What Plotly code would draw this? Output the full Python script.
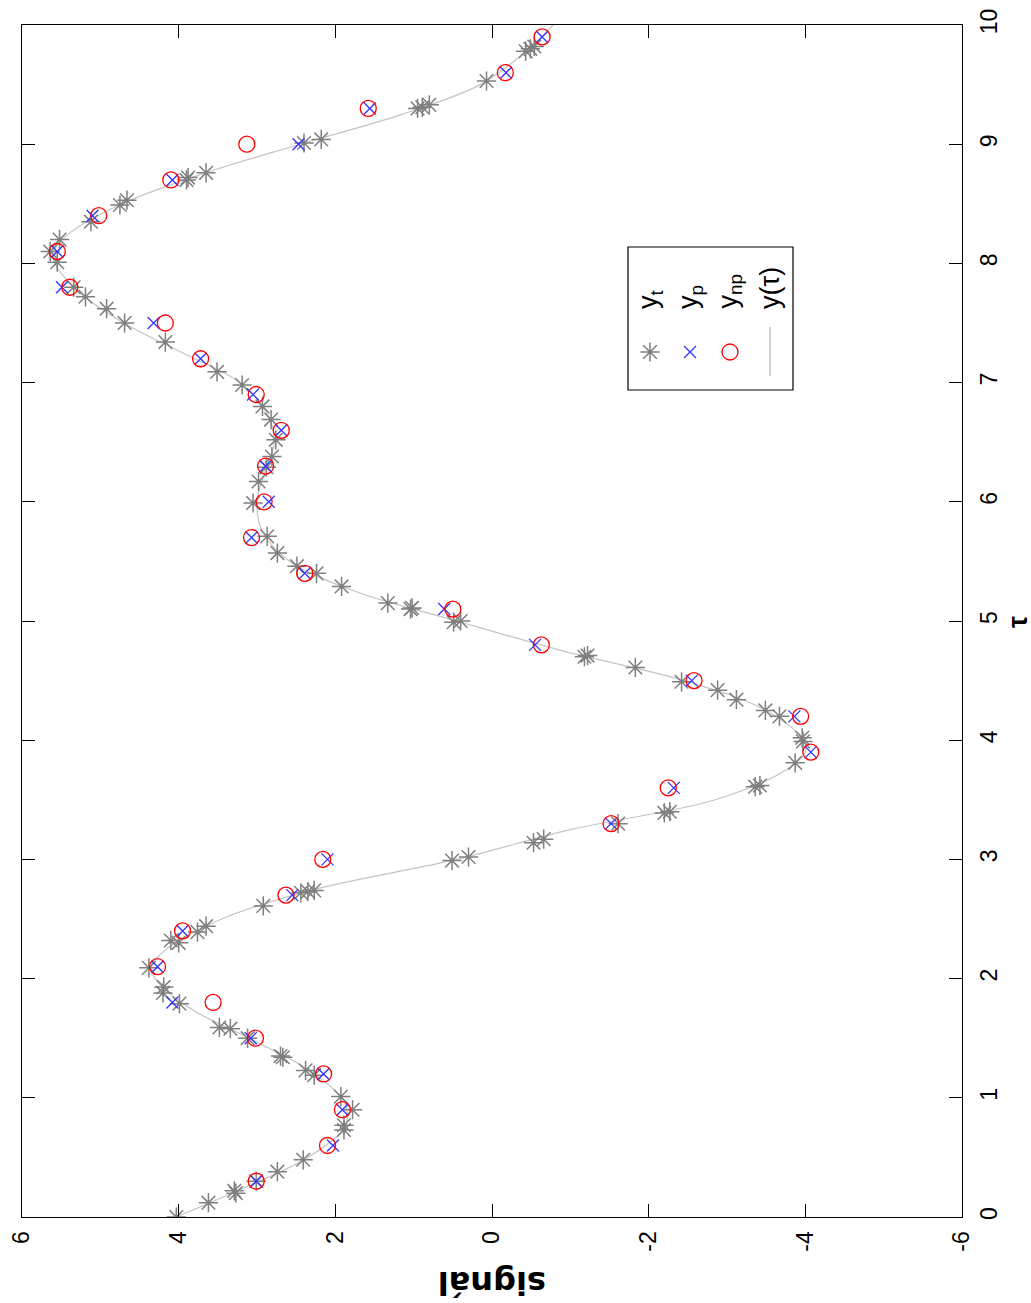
import plotly.graph_objects as go

# ---------------- data ----------------
tau_t = [0.00, 0.12, 0.20, 0.22, 0.30, 0.38, 0.48, 0.73, 0.77, 0.90, 1.01, 1.19, 1.23,
         1.34, 1.35, 1.50, 1.58, 1.59, 1.79, 1.88, 1.93, 2.09, 2.30, 2.32, 2.39, 2.44,
         2.61, 2.72, 2.73, 2.74, 2.99, 3.02, 3.14, 3.17, 3.30, 3.39, 3.40, 3.61, 3.62,
         3.81, 3.99, 4.02, 4.20, 4.25, 4.34, 4.42, 4.49, 4.61, 4.70, 4.71, 4.99, 5.00,
         5.10, 5.11, 5.15, 5.29, 5.40, 5.46, 5.57, 5.71, 5.99, 6.17, 6.29, 6.38, 6.52,
         6.69, 6.80, 6.98, 7.09, 7.34, 7.50, 7.62, 7.72, 7.80, 8.01, 8.10, 8.20, 8.35,
         8.49, 8.53, 8.70, 8.72, 8.76, 9.01, 9.04, 9.30, 9.31, 9.33, 9.53, 9.78, 9.80,
         9.82]
y_t = [4.03, 3.62, 3.27, 3.29, 3.01, 2.74, 2.41, 1.89, 1.89, 1.78, 1.93, 2.27, 2.38,
       2.67, 2.70, 3.12, 3.34, 3.48, 3.99, 4.20, 4.19, 4.38, 4.00, 4.10, 3.76, 3.65,
       2.92, 2.44, 2.35, 2.27, 0.51, 0.30, -0.53, -0.66, -1.61, -2.20, -2.27, -3.36, -3.42,
       -3.87, -3.97, -3.96, -3.67, -3.49, -3.12, -2.88, -2.42, -1.83, -1.18, -1.22, 0.49, 0.40,
       1.04, 1.02, 1.33, 1.92, 2.24, 2.49, 2.74, 2.87, 3.05, 2.98, 2.88, 2.81, 2.76,
       2.82, 2.93, 3.19, 3.51, 4.17, 4.69, 4.92, 5.19, 5.34, 5.55, 5.64, 5.52, 5.12,
       4.75, 4.66, 3.90, 3.88, 3.65, 2.40, 2.18, 0.95, 0.89, 0.80, 0.07, -0.43, -0.49,
       -0.54]

tau_s = [0.3, 0.6, 0.9, 1.2, 1.5, 1.8, 2.1, 2.4, 2.7, 3.0, 3.3, 3.6, 3.9, 4.2, 4.5, 4.8,
         5.1, 5.4, 5.7, 6.0, 6.3, 6.6, 6.9, 7.2, 7.5, 7.8, 8.1, 8.4, 8.7, 9.0, 9.3, 9.6, 9.9]
y_p = [3.01, 2.03, 1.91, 2.15, 3.08, 4.08, 4.27, 3.95, 2.55, 2.10, -1.52, -2.32, -4.07,
       -3.86, -2.55, -0.55, 0.61, 2.39, 3.07, 2.85, 2.89, 2.69, 3.05, 3.72, 4.32, 5.49,
       5.55, 5.10, 4.08, 2.47, 1.56, -0.18, -0.64]
y_np = [3.01, 2.10, 1.91, 2.15, 3.02, 3.56, 4.27, 3.95, 2.63, 2.16, -1.52, -2.25, -4.07,
        -3.94, -2.58, -0.63, 0.50, 2.39, 3.07, 2.91, 2.89, 2.69, 3.01, 3.72, 4.17, 5.39,
        5.55, 5.02, 4.10, 3.13, 1.58, -0.17, -0.64]

tau_c = [0.0, 0.25, 0.5, 0.75, 0.9, 1.0, 1.25, 1.5, 1.75, 2.0, 2.1, 2.25, 2.5, 2.75, 3.0,
         3.25, 3.5, 3.75, 3.9, 4.0, 4.25, 4.5, 4.75, 5.0, 5.25, 5.5, 5.75, 6.0, 6.25, 6.5,
         6.75, 7.0, 7.25, 7.5, 7.75, 8.0, 8.1, 8.25, 8.5, 8.75, 9.0, 9.25, 9.5, 9.75, 10.0]
y_c = [4.03, 3.15, 2.35, 1.88, 1.85, 1.92, 2.38, 3.10, 3.85, 4.30, 4.35, 4.15, 3.45, 2.25, 0.45,
       -1.00, -2.85, -3.75, -4.00, -3.98, -3.50, -2.45, -0.90, 0.45, 1.75, 2.58, 2.93, 3.00, 2.90, 2.78,
       2.88, 3.22, 3.95, 4.70, 5.25, 5.58, 5.60, 5.40, 4.72, 3.70, 2.45, 1.15, 0.15, -0.38, -0.78]

sig_ticks = [-6, -4, -2, 0, 2, 4, 6]
tau_ticks = [0, 1, 2, 3, 4, 5, 6, 7, 8, 9, 10]
legend_labels = ["y<sub>t</sub>", "y<sub>p</sub>", "y<sub>np</sub>", "y(τ)"]

# ---------------- figure geometry (page pixels) ----------------
W, H = 1031, 1303
PLOT_X0, PLOT_X1 = 22, 962   # plot area on the page
PLOT_Y0, PLOT_Y1 = 25, 1217
L = PLOT_X0
T = PLOT_Y0
R = W - PLOT_X1
B = H - PLOT_Y1
PW, PH = PLOT_X1 - PLOT_X0, PLOT_Y1 - PLOT_Y0
XMIN, XMAX = 6, -6
YMIN, YMAX = 0, 10

def px2paper(px, py):
    return (px - PLOT_X0) / PW, (PLOT_Y1 - py) / PH

def px2data(px, py):
    return XMIN + (px - PLOT_X0) / PW * (XMAX - XMIN), YMIN + (PLOT_Y1 - py) / PH * (YMAX - YMIN)

MK_T = dict(symbol="asterisk-open", size=16, color="#7f7f7f", line=dict(color="#7f7f7f", width=1.5))
MK_P = dict(symbol="x-thin-open", size=12, color="#3333ff", line=dict(color="#3333ff", width=1.3))
MK_NP = dict(symbol="circle-open", size=16, color="#ff0000", line=dict(color="#ff0000", width=1.3))
LINE_C = "#c4c4c4"

fig = go.Figure()
fig.add_trace(go.Scatter(x=y_c, y=tau_c, mode="lines", line=dict(color=LINE_C, width=1.2, shape="spline"),
                         hoverinfo="skip", showlegend=False))
fig.add_trace(go.Scatter(x=y_t, y=tau_t, mode="markers", marker=MK_T, showlegend=False))
fig.add_trace(go.Scatter(x=y_p, y=tau_s, mode="markers", marker=MK_P, showlegend=False))
fig.add_trace(go.Scatter(x=y_np, y=tau_s, mode="markers", marker=MK_NP, showlegend=False))

# ---- legend (rotated, drawn manually) ----
bx0, by0 = px2paper(628, 390)
bx1, by1 = px2paper(793, 247)
fig.add_shape(type="rect", xref="paper", yref="paper", x0=bx0, x1=bx1, y0=by0, y1=by1,
              line=dict(color="black", width=1.2), fillcolor="rgba(0,0,0,0)", layer="above")
leg_x = [650, 690, 730, 770]
for lx, lab in zip(leg_x, legend_labels):
    ax_, ay_ = px2paper(lx, 311)
    fig.add_annotation(text=lab, xref="paper", yref="paper", x=ax_, y=ay_, textangle=-90,
                       xanchor="center", yanchor="bottom", showarrow=False,
                       font=dict(family="Liberation Sans, Arial", size=27, color="black"))
for lx, mk in zip(leg_x[:3], [MK_T, MK_P, MK_NP]):
    mx, my = px2data(lx, 352)
    fig.add_trace(go.Scatter(x=[mx], y=[my], mode="markers", showlegend=False, hoverinfo="skip", marker=mk))
lx0, ly0 = px2paper(leg_x[3], 327)
lx1, ly1 = px2paper(leg_x[3], 376)
fig.add_shape(type="line", xref="paper", yref="paper", x0=lx0, x1=lx1, y0=ly0, y1=ly1,
              line=dict(color=LINE_C, width=1.5), layer="above")

# ---- axis titles ----
tx, ty = px2paper(492, 1283)
fig.add_annotation(text="<b>signál</b>", xref="paper", yref="paper", x=tx, y=ty, textangle=180,
                   showarrow=False, xanchor="center", yanchor="middle",
                   font=dict(family="DejaVu Sans, Liberation Sans", size=32, color="black"))
tx, ty = px2paper(1018, 622)
fig.add_annotation(text="<b>τ</b>", xref="paper", yref="paper", x=tx, y=ty, textangle=-90,
                   showarrow=False, xanchor="center", yanchor="middle",
                   font=dict(family="Liberation Sans, Arial", size=27, color="black"))

axis_common = dict(showgrid=False, zeroline=False, showline=True, linecolor="black", linewidth=1.2,
                   mirror="ticks", ticks="inside", ticklen=13, tickwidth=1.2, tickcolor="black",
                   tickangle=-90, tickfont=dict(family="Liberation Sans, Arial", size=23, color="black"))
fig.update_xaxes(range=[XMIN, XMAX], tickvals=sig_ticks, ticktext=[str(v) for v in sig_ticks],
                 ticklabelstandoff=4, **axis_common)
fig.update_yaxes(range=[YMIN, YMAX], tickvals=tau_ticks, ticktext=[str(v) for v in tau_ticks],
                 side="right", ticklabelstandoff=6, **axis_common)

fig.update_layout(width=W, height=H, margin=dict(l=L, r=R, t=T, b=B, autoexpand=False),
                  plot_bgcolor="white", paper_bgcolor="white", showlegend=False, hovermode=False)

fig.write_html("out.html", config={"displayModeBar": False},
               post_script="document.body.style.margin='0px';document.body.style.overflow='hidden';")
